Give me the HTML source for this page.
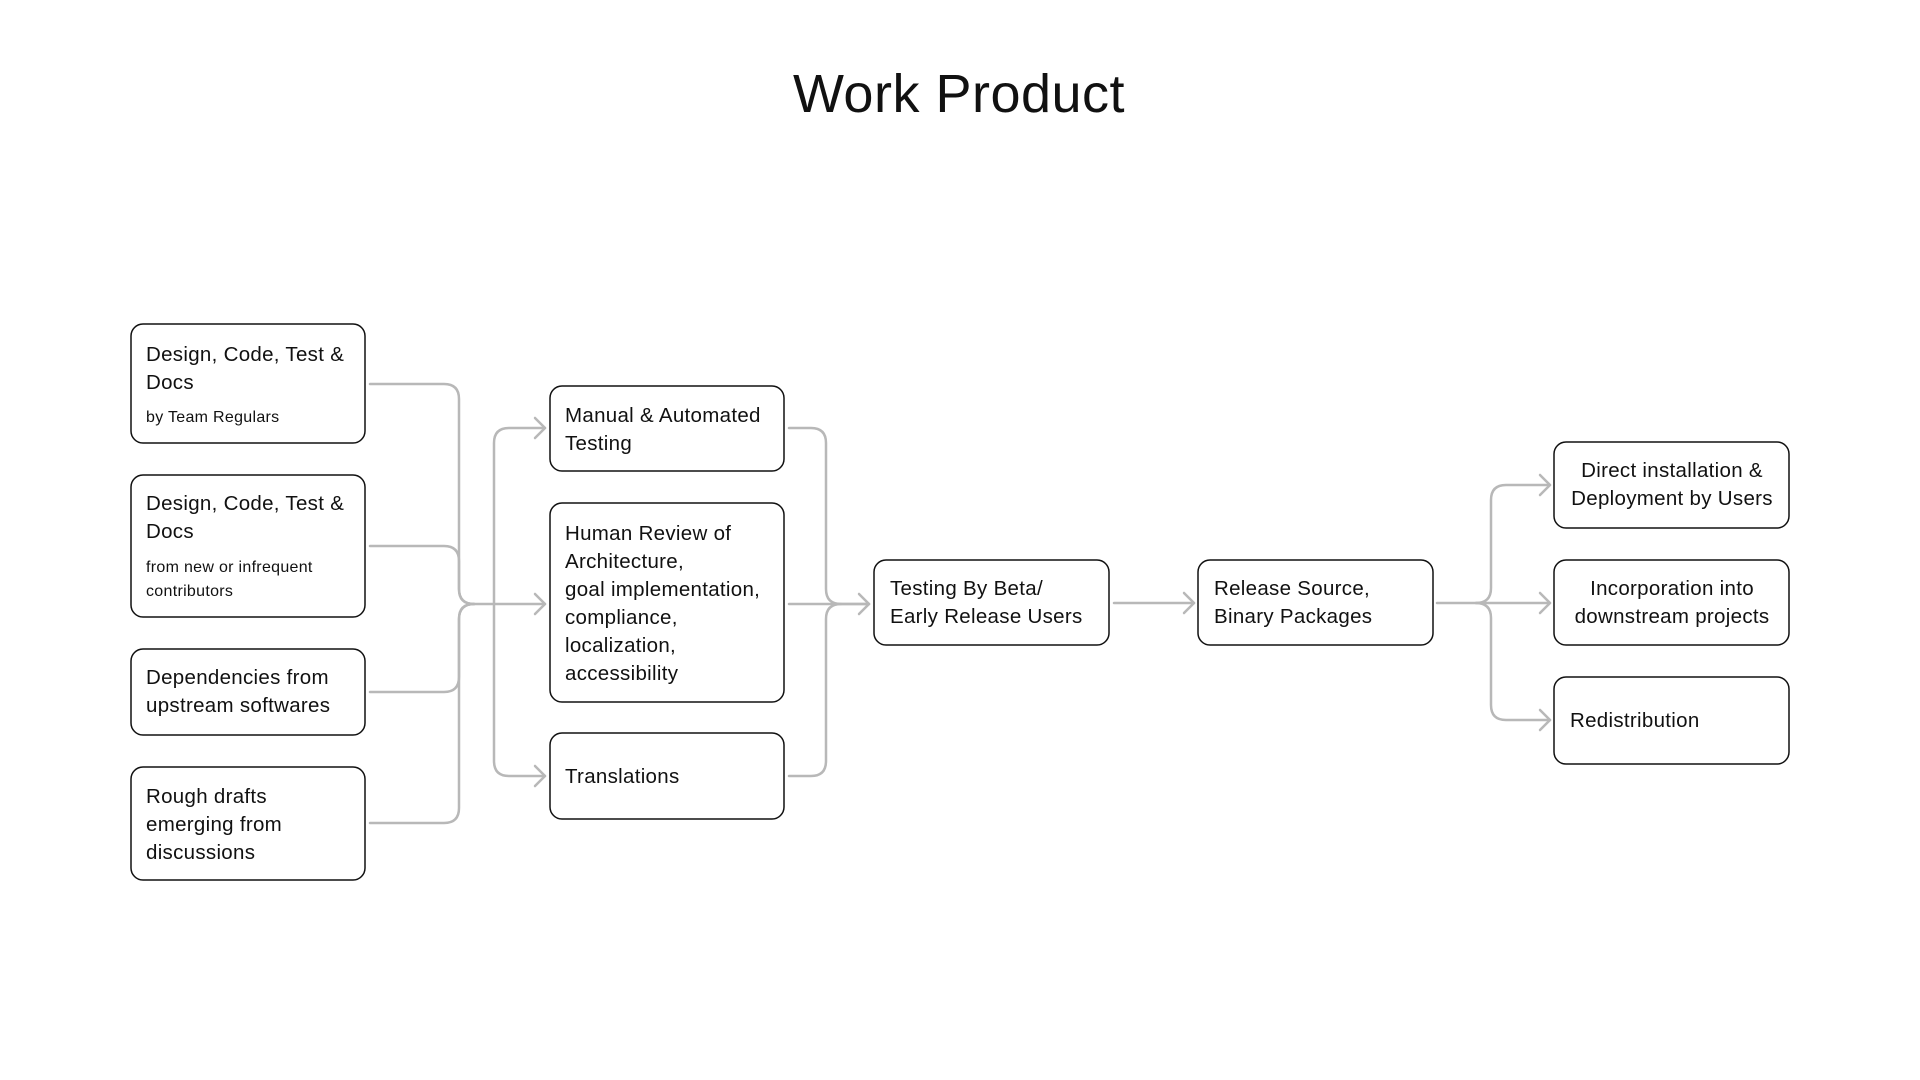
<!DOCTYPE html>
<html><head><meta charset="utf-8"><style>
html,body{margin:0;padding:0;background:#fff;}
svg{display:block}
text{font-family:"Liberation Sans",sans-serif;fill:#111;}
.t{font-size:20.5px;letter-spacing:0.3px}
.s{font-size:16px;letter-spacing:0.3px}
.b{fill:#fff;stroke:#111;stroke-width:1.5}
.c{fill:none;stroke:#b8b8b8;stroke-width:2.5;stroke-linecap:round;stroke-linejoin:round}
</style></head><body>
<svg width="1920" height="1080" viewBox="0 0 1920 1080" xmlns="http://www.w3.org/2000/svg">
<text x="959" y="112" text-anchor="middle" style="font-size:54px;letter-spacing:0.5px">Work Product</text>

<g class="c">
<path d="M370 384 H444 Q459 384 459 399 V589 Q459 604 474 604"/>
<path d="M370 546 H444 Q459 546 459 561 V589 Q459 604 474 604"/>
<path d="M370 692 H444 Q459 692 459 677 V619 Q459 604 474 604"/>
<path d="M370 823 H444 Q459 823 459 808 V619 Q459 604 474 604"/>
<path d="M474 604 H545"/>
<path d="M494 604 V443 Q494 428 509 428 H545"/>
<path d="M494 604 V761 Q494 776 509 776 H545"/>
<path d="M535 418 L545 428 L535 438"/>
<path d="M535 594 L545 604 L535 614"/>
<path d="M535 766 L545 776 L535 786"/>

<path d="M789 428 H811 Q826 428 826 443 V589 Q826 604 841 604 H869"/>
<path d="M789 776 H811 Q826 776 826 761 V619 Q826 604 841 604"/>
<path d="M789 604 H869"/>
<path d="M859 594 L869 604 L859 614"/>

<path d="M1114 603 H1194"/>
<path d="M1184 593 L1194 603 L1184 613"/>

<path d="M1437 603 H1550"/>
<path d="M1476 603 Q1491 603 1491 588 V500 Q1491 485 1506 485 H1550"/>
<path d="M1476 603 Q1491 603 1491 618 V705 Q1491 720 1506 720 H1550"/>
<path d="M1540 475 L1550 485 L1540 495"/>
<path d="M1540 593 L1550 603 L1540 613"/>
<path d="M1540 710 L1550 720 L1540 730"/>
</g>

<rect class="b" x="131" y="324" width="234" height="119" rx="12"/>
<text class="t" x="146" y="361">Design, Code, Test &amp;</text>
<text class="t" x="146" y="389">Docs</text>
<text class="s" x="146" y="422">by Team Regulars</text>

<rect class="b" x="131" y="475" width="234" height="142" rx="12"/>
<text class="t" x="146" y="510">Design, Code, Test &amp;</text>
<text class="t" x="146" y="538">Docs</text>
<text class="s" x="146" y="572">from new or infrequent</text>
<text class="s" x="146" y="596">contributors</text>

<rect class="b" x="131" y="649" width="234" height="86" rx="12"/>
<text class="t" x="146" y="684">Dependencies from</text>
<text class="t" x="146" y="712">upstream softwares</text>

<rect class="b" x="131" y="767" width="234" height="113" rx="12"/>
<text class="t" x="146" y="803">Rough drafts</text>
<text class="t" x="146" y="831">emerging from</text>
<text class="t" x="146" y="859">discussions</text>

<rect class="b" x="550" y="386" width="234" height="85" rx="12"/>
<text class="t" x="565" y="422">Manual &amp; Automated</text>
<text class="t" x="565" y="450">Testing</text>

<rect class="b" x="550" y="503" width="234" height="199" rx="12"/>
<text class="t" x="565" y="540">Human Review of</text>
<text class="t" x="565" y="568">Architecture,</text>
<text class="t" x="565" y="596">goal implementation,</text>
<text class="t" x="565" y="624">compliance,</text>
<text class="t" x="565" y="652">localization,</text>
<text class="t" x="565" y="680">accessibility</text>

<rect class="b" x="550" y="733" width="234" height="86" rx="12"/>
<text class="t" x="565" y="783">Translations</text>

<rect class="b" x="874" y="560" width="235" height="85" rx="12"/>
<text class="t" x="890" y="595">Testing By Beta/</text>
<text class="t" x="890" y="623">Early Release Users</text>

<rect class="b" x="1198" y="560" width="235" height="85" rx="12"/>
<text class="t" x="1214" y="595">Release Source,</text>
<text class="t" x="1214" y="623">Binary Packages</text>

<rect class="b" x="1554" y="442" width="235" height="86" rx="12"/>
<text class="t" x="1672" y="477" text-anchor="middle">Direct installation &amp;</text>
<text class="t" x="1672" y="505" text-anchor="middle">Deployment by Users</text>

<rect class="b" x="1554" y="560" width="235" height="85" rx="12"/>
<text class="t" x="1672" y="595" text-anchor="middle">Incorporation into</text>
<text class="t" x="1672" y="623" text-anchor="middle">downstream projects</text>

<rect class="b" x="1554" y="677" width="235" height="87" rx="12"/>
<text class="t" x="1570" y="727">Redistribution</text>
</svg>
</body></html>
